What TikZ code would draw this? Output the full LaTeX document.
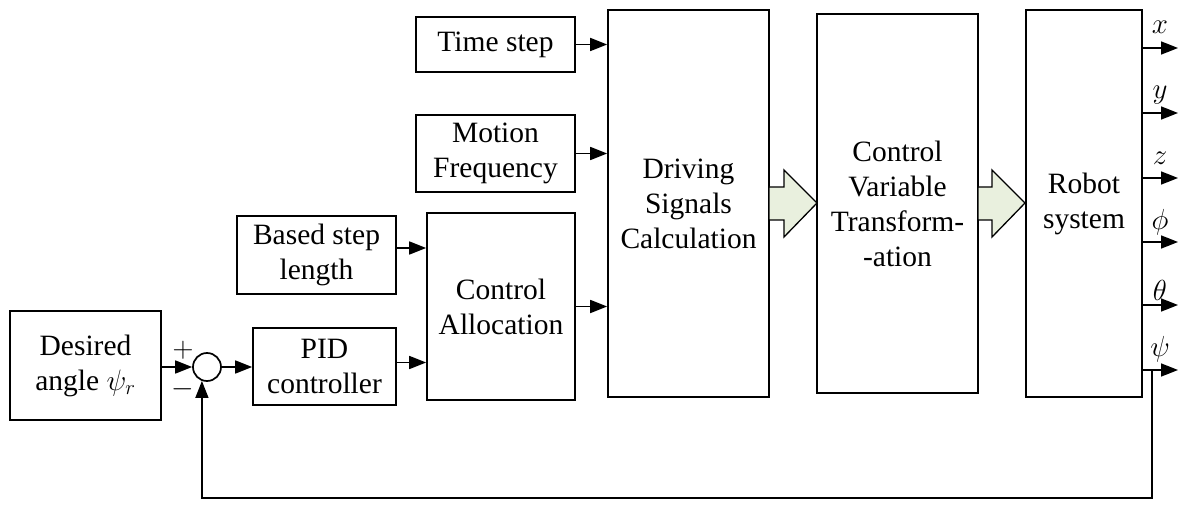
\RequirePackage{fix-cm}
\documentclass[tikz,border=0pt]{standalone}
\usepackage{fontspec}
\setmainfont{Liberation Serif}
\usetikzlibrary{arrows.meta,calc}
\definecolor{hfill}{RGB}{233,240,222}
\begin{document}
\begin{tikzpicture}[x=1pt,y=-1pt,
  blk/.style={draw,line width=1.7pt,inner sep=0pt,align=center,font=\fontsize{29.5}{35}\selectfont},
  conn/.style={line width=1.7pt,-{Triangle[length=17pt,width=13pt]}},
  hollow/.style={draw,line width=1.3pt,fill=hfill,line join=miter},
  lbl/.style={font=\fontsize{29}{35}\selectfont,inner sep=0pt}]
\useasboundingbox (0,0) rectangle (1187,508);
\node[blk,minimum width=151pt,minimum height=109pt] (des) at (85.5,365.5) {Desired\\angle $\psi_r$};
\node[draw,line width=1.7pt,circle,minimum size=28pt,inner sep=0pt] (sum) at (207,367) {};
\node[blk,minimum width=143pt,minimum height=77pt] (pid) at (324.5,366.5) {PID\\controller};
\node[blk,minimum width=159pt,minimum height=78pt] (bsl) at (316.5,255) {Based step\\length};
\node[blk,minimum width=148pt,minimum height=187pt] (ca) at (501,306.5) {Control\\Allocation};
\node[blk,minimum width=159pt,minimum height=55pt] (ts) at (495.5,44.5) {Time step};
\node[blk,minimum width=159pt,minimum height=77pt] (mf) at (495.5,153.5) {Motion\\Frequency};
\node[blk,minimum width=161pt,minimum height=387pt] (dsc) at (688.5,203.5) {Driving\\Signals\\Calculation};
\node[blk,minimum width=161pt,minimum height=379pt] (cvt) at (897.5,203.5) {Control\\Variable\\Transform-\\-ation};
\node[blk,minimum width=116pt,minimum height=387pt] (rob) at (1084,203.5) {Robot\\system};
% signs
\node[lbl,font=\fontsize{29}{34}\selectfont] (plus) at (183,350) {$+$};
\node[lbl,font=\fontsize{29}{34}\selectfont] (minus) at (183,389) {$-$};
% connectors
\draw[conn] (des.east |- sum.west) -- (sum.west);
\draw[conn] (sum.east) -- (sum.east -| pid.west);
\draw[conn] ($(pid.east)+(0,-4)$) -- ($(pid.east -| ca.west)+(0,-4)$);
\draw[conn] ($(bsl.east)+(0,-7)$) -- ($(bsl.east -| ca.west)+(0,-7)$);
\draw[conn] (ts.east) -- (ts.east -| dsc.west);
\draw[conn] (mf.east) -- (mf.east -| dsc.west);
\draw[conn] (ca.east) -- (ca.east -| dsc.west);
% hollow arrows
\draw[hollow] (769,187) -- (784,187) -- (784,170) -- (817,203) -- (784,237) -- (784,220) -- (769,220) -- cycle;
\draw[hollow] (978,187) -- (992,187) -- (992,170) -- (1025,203) -- (992,237) -- (992,220) -- (978,220) -- cycle;
% outputs
\foreach \n/\yy/\t/\ly in {ox/48/x/27, oy/113/y/95, oz/178/z/158, oph/242/\phi/222, oth/305/\theta/290, ops/370/\psi/349}{
  \coordinate (\n s) at (1142,\yy);
  \coordinate (\n e) at (1178,\yy);
  \draw[conn] (\n s) -- (\n e);
  \node[lbl] (\n l) at (1160,\ly) {$\t$};
}
% feedback
\coordinate (fb) at (1152,370);
\coordinate (fbb) at (1152,498);
\draw[conn] (fb) -- (fbb) -| (sum.250);
\end{tikzpicture}
\end{document}
